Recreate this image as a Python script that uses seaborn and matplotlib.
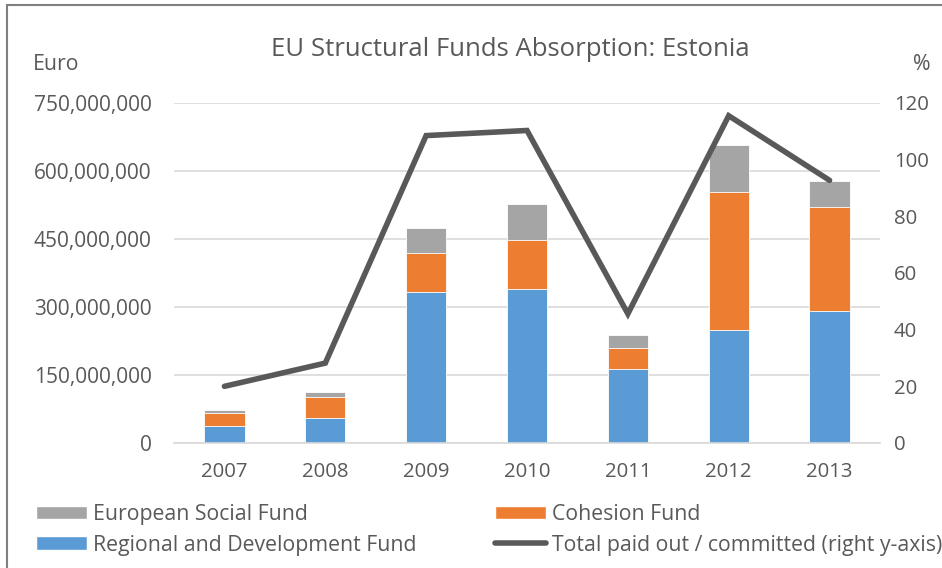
import numpy as np
import pandas as pd
import matplotlib
matplotlib.use("Agg")
import matplotlib.pyplot as plt
import seaborn as sns
from matplotlib.patches import Patch
from matplotlib.lines import Line2D

years = ["2007", "2008", "2009", "2010", "2011", "2012", "2013"]
regional_dev_fund = [37e6, 55e6, 333e6, 340e6, 163e6, 249e6, 291e6]
cohesion_fund = [29e6, 46e6, 86e6, 107e6, 47e6, 304e6, 230e6]
social_fund = [7e6, 11e6, 56e6, 81e6, 28e6, 105e6, 57e6]
total_pct = [20.0, 28.2, 108.5, 110.3, 45.6, 115.5, 92.7]
left_ticks = [0, 150e6, 300e6, 450e6, 600e6, 750e6]
right_ticks = [0, 20, 40, 60, 80, 100, 120]

C_BLUE = "#5B9BD5"
C_ORANGE = "#ED7D31"
C_GRAY = "#A5A5A5"
C_LINE = "#595959"
C_TEXT = "#595959"

sns.set_theme(style="white")
FONT = ["Open Sans", "DejaVu Sans"]
plt.rcParams["font.family"] = FONT

df = pd.DataFrame({
    "year": years,
    "rdf": regional_dev_fund,
    "cf": cohesion_fund,
    "esf": social_fund,
})
df["rdf_cf"] = df["rdf"] + df["cf"]
df["all"] = df["rdf_cf"] + df["esf"]

fig = plt.figure(figsize=(9.42, 5.68), dpi=100)
ax = fig.add_axes([174 / 942, 1 - 443 / 568, (880 - 174) / 942, (443 - 103) / 568])

for col, colr in [("all", C_GRAY), ("rdf_cf", C_ORANGE), ("rdf", C_BLUE)]:
    sns.barplot(data=df, x="year", y=col, color=colr, width=0.4, ax=ax,
                saturation=1, edgecolor="white", linewidth=0.6, zorder=2)

ax.set_ylim(0, 750e6)
ax.set_xlim(-0.5, 6.5)
ax.set_yticks(left_ticks)
ax.set_yticklabels([f"{int(v):,}" for v in left_ticks])
ax.yaxis.grid(True, color="#D9D9D9", linewidth=1.2, zorder=0)
ax.set_axisbelow(True)
ax.set_xlabel("")
ax.set_ylabel("")
for s in ["top", "right", "left"]:
    ax.spines[s].set_visible(False)
ax.spines["bottom"].set_color("#D9D9D9")
ax.spines["bottom"].set_linewidth(1.2)
ax.tick_params(axis="y", length=0, pad=16, labelsize=15, labelcolor=C_TEXT)
ax.tick_params(axis="x", length=0, pad=14, labelsize=14.7, labelcolor=C_TEXT)

ax2 = ax.twinx()
line_df = pd.DataFrame({"pos": np.arange(len(years)), "pct": total_pct})
sns.lineplot(data=line_df, x="pos", y="pct", color=C_LINE, linewidth=4, ax=ax2,
             solid_capstyle="round", solid_joinstyle="miter", zorder=5)
ax2.set_ylim(0, 120)
ax2.set_yticks(right_ticks)
ax2.set_xlim(-0.5, 6.5)
ax2.set_ylabel("")
ax2.set_xlabel("")
for s in ["top", "right", "left", "bottom"]:
    ax2.spines[s].set_visible(False)
ax2.tick_params(axis="y", length=0, pad=10, labelsize=14.7, labelcolor=C_TEXT)
ax2.grid(False)

fig.text(510 / 942, 1 - 50 / 568, "EU Structural Funds Absorption: Estonia",
         ha="center", va="center", fontsize=18.5, color=C_TEXT)
fig.text(33 / 942, 1 - 64 / 568, "Euro", ha="left", va="center", fontsize=15.3, color=C_TEXT)
fig.text(922 / 942, 1 - 64 / 568, "%", ha="center", va="center", fontsize=15.3, color=C_TEXT)

leg_kw = dict(frameon=False, fontsize=15.3, handlelength=2.4, handleheight=0.6,
              handletextpad=0.3, labelspacing=0.45, borderaxespad=0, borderpad=0,
              labelcolor=C_TEXT)
h1 = [Patch(facecolor=C_GRAY), Patch(facecolor=C_BLUE)]
l1 = ["European Social Fund", "Regional and Development Fund"]
h2 = [Patch(facecolor=C_ORANGE), Line2D([], [], color=C_LINE, linewidth=4, solid_capstyle="round")]
l2 = ["Cohesion Fund", "Total paid out / committed (right y-axis)"]
fig.legend(h1, l1, loc="upper left", bbox_to_anchor=(36 / 942, 1 - 504 / 568), **leg_kw)
fig.legend(h2, l2, loc="upper left", bbox_to_anchor=(495 / 942, 1 - 504 / 568), **leg_kw)

fig.add_artist(Line2D([7 / 942, 7 / 942], [0, 1 - 5 / 568], transform=fig.transFigure,
                      color="#7F7F7F", linewidth=1.5))
fig.add_artist(Line2D([7 / 942, 1], [1 - 5 / 568, 1 - 5 / 568], transform=fig.transFigure,
                      color="#7F7F7F", linewidth=1.5))

fig.savefig("out.png", dpi=100, facecolor="white")
